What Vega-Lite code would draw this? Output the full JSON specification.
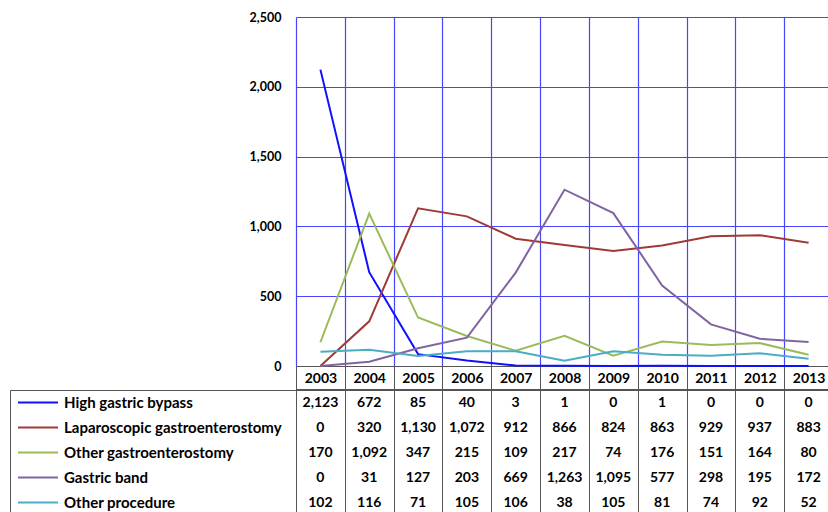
{
  "$schema": "https://vega.github.io/schema/vega-lite/v6.json",
  "width": 537,
  "height": 349,
  "autosize": {"type": "none"},
  "padding": {"left": 296, "top": 17, "right": 0, "bottom": 146},
  "background": "white",
  "config": {"view": {"stroke": null}, "font": "Lato"},
  "data": {
    "values": [
      {"procedure": "High gastric bypass", "year": "2003", "count": 2123},
      {"procedure": "High gastric bypass", "year": "2004", "count": 672},
      {"procedure": "High gastric bypass", "year": "2005", "count": 85},
      {"procedure": "High gastric bypass", "year": "2006", "count": 40},
      {"procedure": "High gastric bypass", "year": "2007", "count": 3},
      {"procedure": "High gastric bypass", "year": "2008", "count": 1},
      {"procedure": "High gastric bypass", "year": "2009", "count": 0},
      {"procedure": "High gastric bypass", "year": "2010", "count": 1},
      {"procedure": "High gastric bypass", "year": "2011", "count": 0},
      {"procedure": "High gastric bypass", "year": "2012", "count": 0},
      {"procedure": "High gastric bypass", "year": "2013", "count": 0},
      {"procedure": "Laparoscopic gastroenterostomy", "year": "2003", "count": 0},
      {"procedure": "Laparoscopic gastroenterostomy", "year": "2004", "count": 320},
      {"procedure": "Laparoscopic gastroenterostomy", "year": "2005", "count": 1130},
      {"procedure": "Laparoscopic gastroenterostomy", "year": "2006", "count": 1072},
      {"procedure": "Laparoscopic gastroenterostomy", "year": "2007", "count": 912},
      {"procedure": "Laparoscopic gastroenterostomy", "year": "2008", "count": 866},
      {"procedure": "Laparoscopic gastroenterostomy", "year": "2009", "count": 824},
      {"procedure": "Laparoscopic gastroenterostomy", "year": "2010", "count": 863},
      {"procedure": "Laparoscopic gastroenterostomy", "year": "2011", "count": 929},
      {"procedure": "Laparoscopic gastroenterostomy", "year": "2012", "count": 937},
      {"procedure": "Laparoscopic gastroenterostomy", "year": "2013", "count": 883},
      {"procedure": "Other  gastroenterostomy", "year": "2003", "count": 170},
      {"procedure": "Other  gastroenterostomy", "year": "2004", "count": 1092},
      {"procedure": "Other  gastroenterostomy", "year": "2005", "count": 347},
      {"procedure": "Other  gastroenterostomy", "year": "2006", "count": 215},
      {"procedure": "Other  gastroenterostomy", "year": "2007", "count": 109},
      {"procedure": "Other  gastroenterostomy", "year": "2008", "count": 217},
      {"procedure": "Other  gastroenterostomy", "year": "2009", "count": 74},
      {"procedure": "Other  gastroenterostomy", "year": "2010", "count": 176},
      {"procedure": "Other  gastroenterostomy", "year": "2011", "count": 151},
      {"procedure": "Other  gastroenterostomy", "year": "2012", "count": 164},
      {"procedure": "Other  gastroenterostomy", "year": "2013", "count": 80},
      {"procedure": "Gastric band", "year": "2003", "count": 0},
      {"procedure": "Gastric band", "year": "2004", "count": 31},
      {"procedure": "Gastric band", "year": "2005", "count": 127},
      {"procedure": "Gastric band", "year": "2006", "count": 203},
      {"procedure": "Gastric band", "year": "2007", "count": 669},
      {"procedure": "Gastric band", "year": "2008", "count": 1263},
      {"procedure": "Gastric band", "year": "2009", "count": 1095},
      {"procedure": "Gastric band", "year": "2010", "count": 577},
      {"procedure": "Gastric band", "year": "2011", "count": 298},
      {"procedure": "Gastric band", "year": "2012", "count": 195},
      {"procedure": "Gastric band", "year": "2013", "count": 172},
      {"procedure": "Other procedure", "year": "2003", "count": 102},
      {"procedure": "Other procedure", "year": "2004", "count": 116},
      {"procedure": "Other procedure", "year": "2005", "count": 71},
      {"procedure": "Other procedure", "year": "2006", "count": 105},
      {"procedure": "Other procedure", "year": "2007", "count": 106},
      {"procedure": "Other procedure", "year": "2008", "count": 38},
      {"procedure": "Other procedure", "year": "2009", "count": 105},
      {"procedure": "Other procedure", "year": "2010", "count": 81},
      {"procedure": "Other procedure", "year": "2011", "count": 74},
      {"procedure": "Other procedure", "year": "2012", "count": 92},
      {"procedure": "Other procedure", "year": "2013", "count": 52}
    ]
  },
  "layer": [
    {
      "mark": {"type": "line", "strokeWidth": 2},
      "encoding": {
        "x": {
          "field": "year",
          "type": "ordinal",
          "bandPosition": 0.5,
          "scale": {"type": "band", "paddingInner": 0, "paddingOuter": 0},
          "axis": {
            "title": null,
            "tickBand": "extent",
            "tickSize": 146,
            "tickColor": "#555555",
            "tickWidth": 1,
            "domainColor": "#555555",
            "domainWidth": 1,
            "grid": true,
            "gridColor": "#4646ff",
            "gridWidth": 1.2,
            "gridOpacity": 1,
            "labelFont": "Lato",
            "labelFontWeight": "bold",
            "labelFontSize": 14,
            "labelColor": "black",
            "labelPadding": -134,
            "labelBaseline": "middle",
            "labelAngle": 0,
            "labelFlush": false
          }
        },
        "y": {
          "field": "count",
          "type": "quantitative",
          "scale": {"domain": [0, 2500], "nice": false},
          "axis": {
            "orient": "left",
            "title": null,
            "values": [0, 500, 1000, 1500, 2000, 2500],
            "format": ",d",
            "labelFont": "Lato",
            "labelFontWeight": "bold",
            "labelFontSize": 12.5,
            "labelColor": "black",
            "labelPadding": 15,
            "ticks": false,
            "domain": false,
            "grid": true,
            "gridColor": "#4646ff",
            "gridWidth": 1.2,
            "gridOpacity": 1
          }
        },
        "color": {
          "field": "procedure",
          "type": "nominal",
          "scale": {
            "domain": ["High gastric bypass", "Laparoscopic gastroenterostomy", "Other  gastroenterostomy", "Gastric band", "Other procedure"],
            "range": ["#1010ff", "#9e3b37", "#9bbb59", "#8064a2", "#4bacc6"]
          },
          "legend": {
            "orient": "none",
            "legendX": -279,
            "legendY": 373,
            "direction": "vertical",
            "title": null,
            "symbolType": "stroke",
            "symbolSize": 1600,
            "symbolStrokeWidth": 2,
            "clipHeight": 25,
            "rowPadding": 0,
            "padding": 0,
            "labelOffset": 5,
            "labelFont": "Lato",
            "labelFontWeight": "bold",
            "labelFontSize": 15,
            "labelColor": "black",
            "labelLimit": 300
          }
        }
      }
    },
    {
      "layer": [
        {
          "mark": {"type": "text", "font": "Lato", "fontWeight": "bold", "fontSize": 14, "color": "black"},
          "encoding": {
            "x": {"field": "year", "type": "ordinal", "bandPosition": 0.5, "title": null},
            "y": {
              "field": "procedure",
              "type": "nominal",
              "scale": {
                "type": "band",
                "domain": ["High gastric bypass", "Laparoscopic gastroenterostomy", "Other  gastroenterostomy", "Gastric band", "Other procedure"],
                "range": [373, 498],
                "paddingInner": 0,
                "paddingOuter": 0
              },
              "axis": {
                "orient": "left",
                "offset": 286,
                "title": null,
                "values": ["High gastric bypass"],
                "bandPosition": 0,
                "tickSize": -286,
                "tickColor": "#555555",
                "tickWidth": 1,
                "labels": false,
                "domainColor": "#555555",
                "domainWidth": 1,
                "grid": false
              }
            },
            "text": {"field": "count", "type": "quantitative", "format": ","}
          }
        },
        {
          "mark": {"type": "rule", "color": "#555555", "strokeWidth": 1},
          "encoding": {
            "y": {"datum": "High gastric bypass", "type": "nominal", "bandPosition": 0}
          }
        }
      ]
    }
  ],
  "resolve": {"scale": {"y": "independent"}, "axis": {"y": "independent"}}
}
